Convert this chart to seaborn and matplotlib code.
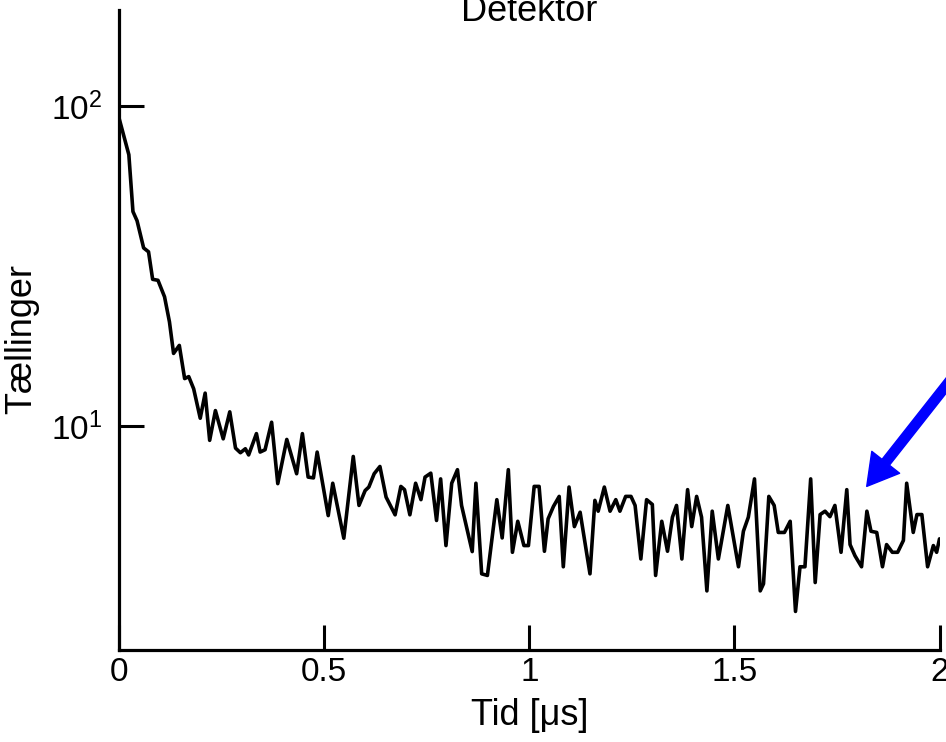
import matplotlib
matplotlib.use("Agg")
import matplotlib.pyplot as plt
import matplotlib.ticker as mticker
import numpy as np
import pandas as pd
import seaborn as sns

# ---- data ----
tid_us = [0.000, 0.024, 0.034, 0.044, 0.060, 0.072, 0.082, 0.095, 0.111, 0.123,
          0.133, 0.147, 0.160, 0.170, 0.182, 0.198, 0.210, 0.221, 0.235, 0.254,
          0.270, 0.284, 0.296, 0.308, 0.316, 0.335,
          0.344, 0.356, 0.372, 0.387, 0.409, 0.433, 0.447, 0.461, 0.474, 0.483,
          0.510, 0.521, 0.548, 0.571, 0.585, 0.600, 0.609, 0.622, 0.636, 0.651,
          0.673,
          0.687, 0.696, 0.709, 0.723, 0.736, 0.746, 0.760, 0.774, 0.784, 0.797,
          0.811, 0.825, 0.835, 0.861, 0.870, 0.884, 0.898, 0.921, 0.934, 0.949,
          0.959, 0.972, 0.987, 0.998, 1.012, 1.024,
          1.037, 1.046, 1.059, 1.073, 1.083, 1.097, 1.110, 1.124, 1.148, 1.160,
          1.168, 1.183, 1.197, 1.211, 1.221, 1.235, 1.248, 1.258, 1.272, 1.286,
          1.300, 1.308, 1.323, 1.337, 1.349, 1.359,
          1.372, 1.386, 1.396, 1.408, 1.420, 1.433, 1.446, 1.461, 1.484, 1.510,
          1.522, 1.534, 1.549, 1.563, 1.571, 1.584, 1.597, 1.607, 1.622, 1.636,
          1.649, 1.660, 1.672, 1.686, 1.697,
          1.709, 1.721, 1.733, 1.745, 1.760, 1.774, 1.782, 1.794, 1.810, 1.823,
          1.833, 1.847, 1.861, 1.871, 1.885, 1.898, 1.912, 1.920, 1.936, 1.945,
          1.957, 1.971, 1.985, 1.993, 2.000]

taellinger = [92, 70.6, 46.9, 43.9, 36.1, 35.1, 28.8, 28.6, 25.4, 21.2,
              16.9, 17.9, 14.1, 14.3, 13.1, 10.6, 12.7, 9.04, 11.2, 9.14,
              11.1, 8.55, 8.27, 8.51, 8.14, 9.49,
              8.31, 8.45, 10.3, 6.62, 9.10, 7.11, 9.49, 6.94, 6.90, 8.31,
              5.26, 6.64, 4.47, 8.05, 5.66, 6.30, 6.46, 7.11, 7.49, 6.01,
              5.29,
              6.49, 6.34, 5.29, 6.64, 5.90, 6.94, 7.14, 5.08, 6.85, 4.24,
              6.64, 7.32, 5.66, 4.06, 6.64, 3.46, 3.42, 5.90, 4.48, 7.32,
              4.04, 5.05, 4.24, 4.24, 6.49, 6.49,
              4.07, 5.14, 5.62, 6.04, 3.64, 6.46, 4.86, 5.39, 3.46, 5.87,
              5.43, 6.46, 5.43, 5.90, 5.43, 6.04, 6.04, 5.66, 3.85, 5.90,
              5.70, 3.42, 5.05, 4.07, 5.20, 5.66,
              3.85, 6.34, 4.86, 6.04, 5.20, 3.06, 5.43, 3.85, 5.66, 3.64,
              4.70, 5.20, 6.85, 3.06, 3.22, 6.04, 5.66, 4.66, 4.66, 5.05,
              2.64, 3.64, 3.64, 6.85, 3.25,
              5.30, 5.43, 5.22, 5.66, 4.04, 6.34, 4.27, 3.94, 3.64, 5.43,
              4.70, 4.66, 3.64, 4.27, 4.04, 4.04, 4.40, 6.64, 4.66, 5.30,
              5.30, 3.64, 4.24, 4.04, 4.45]

x_ticks = [0, 0.5, 1, 1.5, 2]
x_tick_labels = ["0", "0.5", "1", "1.5", "2"]
x_limits = (0, 2)
y_limits = (2, 200)
arrow_tip = (1.8226, 6.49)
arrow_tail = (2.27, 34.7)

title_text = "Detektor"
xlabel_text = "Tid [\u03bcs]"
ylabel_text = "T\u00e6llinger"

# ---- styling ----
sns.set_theme(style="white")
plt.rcParams["font.family"] = ["Liberation Sans", "DejaVu Sans"]
plt.rcParams["mathtext.fontset"] = "custom"
plt.rcParams["mathtext.rm"] = "Liberation Sans"
plt.rcParams["mathtext.default"] = "regular"

FS_TICK = 24
FS_LABEL = 26
W, H = 946, 742
fig = plt.figure(figsize=(W / 100, H / 100), dpi=100)
ax_left, ax_right, ax_top, ax_bottom = 119, 939.5, 10, 650
ax = fig.add_axes([ax_left / W, 1 - ax_bottom / H,
                   (ax_right - ax_left) / W, (ax_bottom - ax_top) / H])

df = pd.DataFrame({"Tid": tid_us, "Taellinger": taellinger})
sns.lineplot(data=df, x="Tid", y="Taellinger", ax=ax, color="black",
             linewidth=2.6, estimator=None, sort=False)

ax.set_yscale("log")
ax.set_xlim(*x_limits)
ax.set_ylim(*y_limits)

ax.set_xticks(x_ticks)
ax.set_xticklabels(x_tick_labels)
ax.xaxis.set_minor_locator(mticker.NullLocator())
ax.yaxis.set_major_locator(mticker.LogLocator(base=10))
ax.yaxis.set_minor_locator(mticker.LogLocator(base=10, subs=np.arange(2, 10)))
ax.yaxis.set_minor_formatter(mticker.NullFormatter())
ax.yaxis.set_major_formatter(
    mticker.FuncFormatter(lambda v, p: r"$10^{%d}$" % int(round(np.log10(v)))))

for s in ["top", "right"]:
    ax.spines[s].set_visible(False)
for s in ["left", "bottom"]:
    ax.spines[s].set_linewidth(2.3)
    ax.spines[s].set_color("black")

ax.tick_params(axis="both", which="major", direction="in", length=18,
               width=2.2, labelsize=FS_TICK, color="black", labelcolor="black")
ax.tick_params(axis="y", which="major", pad=12)
ax.tick_params(axis="x", which="major", pad=5)
ax.tick_params(axis="y", which="minor", direction="in", length=9, width=2.2,
               color="black")
ax.tick_params(left=True, bottom=True)

ax.set_xlabel(xlabel_text, fontsize=FS_LABEL, labelpad=7, color="black")
ax.set_ylabel("")

fig.text(22 / W, 1 - 339 / H, ylabel_text, rotation=90, ha="center",
         va="center", fontsize=FS_LABEL, color="black")
fig.text(529 / W, 1 - 21 / H, title_text, ha="center", va="baseline",
         fontsize=FS_LABEL, color="black")

ax.annotate("", xy=arrow_tip, xytext=arrow_tail,
            arrowprops=dict(arrowstyle="simple,head_length=0.65,head_width=0.75,tail_width=0.2",
                            color="blue", shrinkA=0, shrinkB=0,
                            mutation_scale=34),
            annotation_clip=False)

fig.savefig("out.png", dpi=100)
